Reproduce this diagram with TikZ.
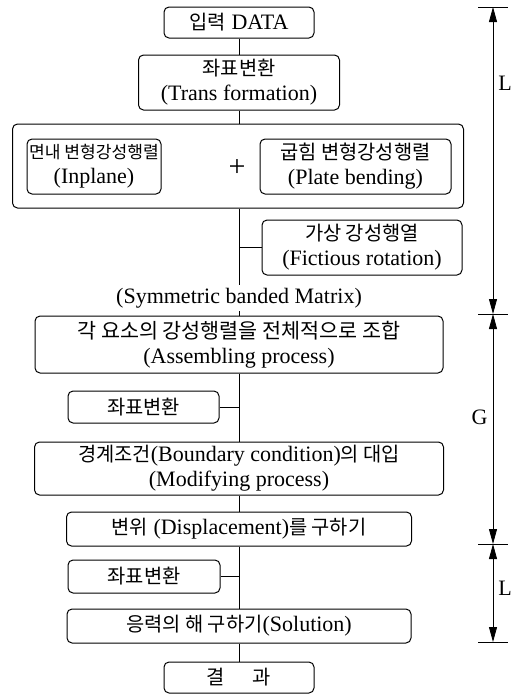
\documentclass[tikz,border=0pt]{standalone}
\usepackage{fontspec}
\setmainfont{Liberation Serif}
\newfontfamily\hangul[Scale=0.9]{Noto Sans CJK KR}
\usetikzlibrary{arrows.meta}

\begin{document}
\begin{tikzpicture}[x=1pt, y=-1pt,
  stepbox/.style={draw, rounded corners=5pt, line width=1pt, align=center, inner sep=0pt, font=\fontsize{22}{25}\selectfont},
  link/.style={line width=1pt},
  dim/.style={line width=0.8pt, {Triangle[length=15pt,width=8pt]}-{Triangle[length=15pt,width=8pt]}},
  dimlabel/.style={font=\fontsize{22}{25}\selectfont, inner sep=2pt}
]
  \useasboundingbox (0,0) rectangle (524,694);

  % element stiffness part
  \node[stepbox, minimum width=150pt, minimum height=31pt] (data) at (239,22.5) {{\hangul 입력} DATA};
  \node[stepbox, minimum width=201pt, minimum height=55pt] (trans1) at (239,82.5) {{\hangul 좌표변환}\\(Trans formation)};
  \node[stepbox, minimum width=451pt, minimum height=84pt] (outer) at (238,166) {};
  \node[stepbox, minimum width=134pt, minimum height=55pt] (inplane) at (94,166.5) {{\fontsize{19}{19}\selectfont\hangul 면내 변형강성행렬}\\(Inplane)};
  \node[font=\fontsize{30}{30}\selectfont, inner sep=0pt] (plus) at (237,168) {+};
  \node[stepbox, minimum width=191pt, minimum height=55pt] (bending) at (355.5,166.5) {{\hangul 굽힘 변형강성행렬}\\(Plate bending)};
  \node[stepbox, minimum width=200pt, minimum height=55pt] (fict) at (362,247.5) {{\hangul 가상 강성행열}\\(Fictious rotation)};
  \node[font=\fontsize{22}{25}\selectfont, inner sep=3pt] (sym) at (239,298) {(Symmetric banded Matrix)};

  % global part
  \node[stepbox, minimum width=408pt, minimum height=57pt] (assemble) at (239,344.5) {{\fontsize{23}{25}\selectfont\hangul 각 요소의 강성행렬을 전체적으로 조합}\\(Assembling process)};
  \node[stepbox, minimum width=151pt, minimum height=32pt] (trans2) at (143.5,407) {\hangul 좌표변환};
  \node[stepbox, minimum width=409pt, minimum height=53pt] (modify) at (239,468.5) {{\hangul 경계조건}(Boundary condition){\hangul 의 대입}\\(Modifying process)};
  \node[stepbox, minimum width=345pt, minimum height=34pt] (disp) at (239,529) {{\hangul 변위} (Displacement){\hangul 를 구하기}};

  % local part
  \node[stepbox, minimum width=152pt, minimum height=33pt] (trans3) at (144,576.5) {\hangul 좌표변환};
  \node[stepbox, minimum width=344pt, minimum height=34pt] (solution) at (239,626) {{\hangul 응력의 해 구하기}(Solution)};
  \node[stepbox, minimum width=150pt, minimum height=31pt] (result) at (239,677.5) {\hangul 결\hspace{1.4em}과};

  % connectors
  \draw[link] (data.south) -- (trans1.north);
  \draw[link] (trans1.south) -- (trans1.south |- outer.north);
  \draw[link] (outer.south -| data.south) -- (sym.north);
  \draw[link] (fict.west) -- (fict.west -| data.south);
  \draw[link] (sym.south) -- (assemble.north);
  \draw[link] (assemble.south) -- (modify.north);
  \draw[link] (trans2.east) -- (trans2.east -| assemble.south);
  \draw[link] (modify.south) -- (disp.north);
  \draw[link] (disp.south) -- (solution.north);
  \draw[link] (trans3.east) -- (trans3.east -| disp.south);
  \draw[link] (solution.south) -- (result.north);

  % dimension marks
  \coordinate (d0) at (493,7);
  \coordinate (d1) at (493,314);
  \coordinate (d2) at (493,544);
  \coordinate (d3) at (493,642);
  \foreach \d in {d0,d1,d2,d3}
    \draw[line width=0.8pt] (\d) ++(-15,0) -- ++(30,0);
  \draw[dim] (d0) -- node[dimlabel, pos=0.25, right=3pt] (lenL1) {L} (d1);
  \draw[dim] (d1) -- node[dimlabel, pos=0.45, left=3pt] (lenG) {G} (d2);
  \draw[dim] (d2) -- node[dimlabel, pos=0.45, right=3pt] (lenL2) {L} (d3);
\end{tikzpicture}
\end{document}
